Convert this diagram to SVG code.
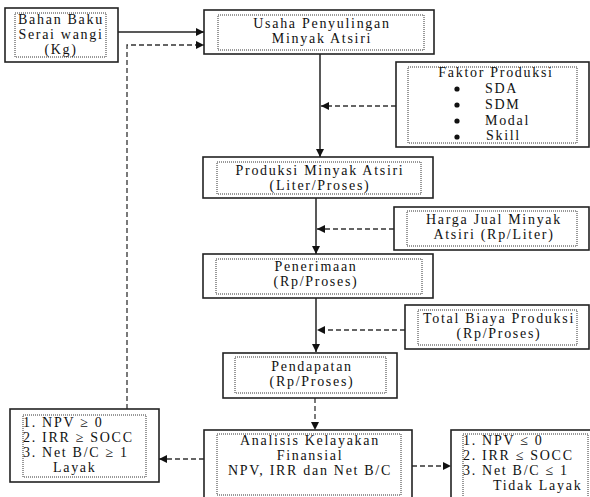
<svg xmlns="http://www.w3.org/2000/svg" width="590" height="497" viewBox="0 0 590 497">
<style>
.outer{fill:#fff;stroke:#222;stroke-width:1.6}
.inner{fill:none;stroke:#333;stroke-width:1;stroke-dasharray:1,1}
text{font-family:"Liberation Serif","Times New Roman",serif;font-size:14px;fill:#111;letter-spacing:1.7px}
.c{text-anchor:middle}
.bullet{fill:#111}
.solid{fill:none;stroke:#222;stroke-width:1.5}
.dash{fill:none;stroke:#333;stroke-width:1.3;stroke-dasharray:5,3}
</style>
<defs>
<marker id="ah" markerUnits="userSpaceOnUse" markerWidth="9" markerHeight="8" refX="8" refY="4" orient="auto">
<path d="M0,0 L8,4 L0,8 z" fill="#111"/>
</marker>
</defs>
<rect width="590" height="497" fill="#fff"/>
<g id="connectors">
<path class="solid" d="M118,32 H204" marker-end="url(#ah)"/>
<path class="dash" d="M127,409 V45 H204" marker-end="url(#ah)"/>
<path class="solid" d="M320,54 V157" marker-end="url(#ah)"/>
<path class="dash" d="M396,106 H321" marker-end="url(#ah)"/>
<path class="solid" d="M316,198 V254" marker-end="url(#ah)"/>
<path class="dash" d="M394,229 H317" marker-end="url(#ah)"/>
<path class="solid" d="M316,298 V352" marker-end="url(#ah)"/>
<path class="dash" d="M405,330 H317" marker-end="url(#ah)"/>
<path class="dash" d="M315,398 V430" marker-end="url(#ah)"/>
<path class="dash" d="M204,459 H159" marker-end="url(#ah)"/>
<path class="dash" d="M412,466 H451" marker-end="url(#ah)"/>
</g>
<g id="bahan">
<rect class="outer" x="5" y="8" width="113" height="54"/>
<rect class="inner" x="15" y="13" width="91" height="44"/>
<text class="c" x="61" y="24">Bahan Baku</text>
<text class="c" x="61" y="39">Serai wangi</text>
<text class="c" x="61" y="54">(Kg)</text>
</g>
<g id="usaha">
<rect class="outer" x="204" y="10" width="230" height="44"/>
<rect class="inner" x="218" y="15" width="206" height="35"/>
<text class="c" x="322" y="28">Usaha Penyulingan</text>
<text class="c" x="322" y="43">Minyak Atsiri</text>
</g>
<g id="faktor">
<rect class="outer" x="396" y="62" width="193" height="85"/>
<rect class="inner" x="408" y="67" width="169" height="76"/>
<text class="c" x="496" y="77">Faktor Produksi</text>
<circle class="bullet" cx="457" cy="89" r="2.6"/>
<text x="485" y="93">SDA</text>
<circle class="bullet" cx="457" cy="105" r="2.6"/>
<text x="485" y="109">SDM</text>
<circle class="bullet" cx="457" cy="121" r="2.6"/>
<text x="485" y="125">Modal</text>
<circle class="bullet" cx="457" cy="137" r="2.6"/>
<text x="486" y="140">Skill</text>
</g>
<g id="produksi">
<rect class="outer" x="203" y="157" width="230" height="41"/>
<rect class="inner" x="217" y="162" width="204" height="32"/>
<text class="c" x="320" y="175">Produksi Minyak Atsiri</text>
<text class="c" x="320" y="190">(Liter/Proses)</text>
</g>
<g id="harga">
<rect class="outer" x="394" y="207" width="195" height="43"/>
<rect class="inner" x="407" y="211" width="170" height="35"/>
<text class="c" x="494" y="224">Harga Jual Minyak</text>
<text class="c" x="494" y="239">Atsiri (Rp/Liter)</text>
</g>
<g id="penerimaan">
<rect class="outer" x="203" y="254" width="230" height="44"/>
<rect class="inner" x="216" y="259" width="206" height="35"/>
<text class="c" x="316" y="271">Penerimaan</text>
<text class="c" x="316" y="286">(Rp/Proses)</text>
</g>
<g id="total">
<rect class="outer" x="405" y="305" width="184" height="44"/>
<rect class="inner" x="418" y="310" width="159" height="35"/>
<text class="c" x="499" y="323">Total Biaya Produksi</text>
<text class="c" x="499" y="338">(Rp/Proses)</text>
</g>
<g id="pendapatan">
<rect class="outer" x="223" y="353" width="174" height="45"/>
<rect class="inner" x="235" y="357" width="151" height="36"/>
<text class="c" x="312" y="371">Pendapatan</text>
<text class="c" x="312" y="386">(Rp/Proses)</text>
</g>
<g id="analisis">
<rect class="outer" x="204" y="430" width="208" height="72"/>
<rect class="inner" x="217" y="434" width="184" height="61"/>
<text class="c" x="310" y="445">Analisis Kelayakan</text>
<text class="c" x="310" y="460">Finansial</text>
<text class="c" x="310" y="475">NPV, IRR dan Net B/C</text>
</g>
<g id="layak">
<rect class="outer" x="10" y="409" width="149" height="73"/>
<rect class="inner" x="23" y="415" width="123" height="62"/>
<text x="23" y="427">1. NPV ≥ 0</text>
<text x="23" y="442">2. IRR ≥ SOCC</text>
<text x="23" y="457">3. Net B/C ≥ 1</text>
<text x="53" y="472">Layak</text>
</g>
<g id="tidak-layak">
<rect class="outer" x="451" y="430" width="145" height="72"/>
<rect class="inner" x="463" y="434" width="125" height="66"/>
<text x="463" y="445">1. NPV ≤ 0</text>
<text x="463" y="460">2. IRR ≤ SOCC</text>
<text x="463" y="475">3. Net B/C ≤ 1</text>
<text x="493" y="490">Tidak Layak</text>
</g>
</svg>
